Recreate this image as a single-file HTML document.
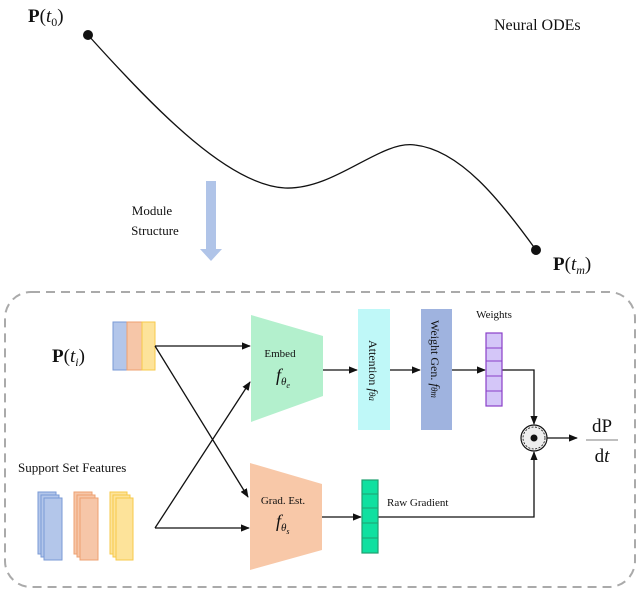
<!DOCTYPE html>
<html><head><meta charset="utf-8"><style>
body{margin:0;background:#fff}
svg text{font-family:"Liberation Serif",serif;fill:#111}
</style></head><body>
<svg width="640" height="591" viewBox="0 0 640 591" xmlns="http://www.w3.org/2000/svg">
<defs>
<marker id="a" viewBox="0 0 10 10" refX="9" refY="5" markerWidth="7" markerHeight="7" orient="auto"><path d="M0,1 L10,5 L0,9 z" fill="#111"/></marker>
</defs>
<!-- top -->
<text x="28" y="22" font-size="19"><tspan font-weight="bold">P</tspan>(<tspan font-style="italic">t</tspan><tspan font-size="12" dy="4">0</tspan><tspan dy="-4">)</tspan></text>
<text x="494" y="30" font-size="16">Neural ODEs</text>
<circle cx="88" cy="35" r="5" fill="#111"/>
<path d="M88,35 C160,115 230,185 285,188 C335,190 380,140 415,145 C460,150 500,200 536,250" fill="none" stroke="#111" stroke-width="1.3"/>
<circle cx="536" cy="250" r="5" fill="#111"/>
<text x="553" y="270" font-size="19"><tspan font-weight="bold">P</tspan>(<tspan font-style="italic">t</tspan><tspan font-size="12" dy="4" font-style="italic">m</tspan><tspan dy="-4">)</tspan></text>
<rect x="206" y="181" width="10" height="69" fill="#b0c4e8"/>
<path d="M200,249 L222,249 L211,261 z" fill="#b0c4e8"/>
<text x="152" y="215" font-size="13" text-anchor="middle">Module</text>
<text x="155" y="235" font-size="13" text-anchor="middle">Structure</text>
<!-- dashed box -->
<rect x="5" y="292" width="630" height="295" rx="26" fill="none" stroke="#aaa" stroke-width="2" stroke-dasharray="9,6"/>
<!-- P(ti) -->
<text x="52" y="362" font-size="19"><tspan font-weight="bold">P</tspan>(<tspan font-style="italic">t</tspan><tspan font-size="12" dy="4" font-style="italic">i</tspan><tspan dy="-4">)</tspan></text>
<rect x="113" y="322" width="14" height="48" fill="#b3c6ea" stroke="#7a9ad6"/>
<rect x="127" y="322" width="15" height="48" fill="#f6c6a8" stroke="#eda071"/>
<rect x="142" y="322" width="13" height="48" fill="#fde39a" stroke="#f7c94a"/>
<!-- support -->
<text x="18" y="472" font-size="13">Support Set Features</text>
<g stroke-width="1">
<rect x="38" y="492" width="18" height="62" fill="#b3c6ea" stroke="#7a9ad6"/>
<rect x="41" y="495" width="18" height="62" fill="#b3c6ea" stroke="#7a9ad6"/>
<rect x="44" y="498" width="18" height="62" fill="#b3c6ea" stroke="#7a9ad6"/>
<rect x="74" y="492" width="18" height="62" fill="#f6c6a8" stroke="#eda071"/>
<rect x="77" y="495" width="18" height="62" fill="#f6c6a8" stroke="#eda071"/>
<rect x="80" y="498" width="18" height="62" fill="#f6c6a8" stroke="#eda071"/>
<rect x="110" y="492" width="17" height="62" fill="#fde39a" stroke="#f7c94a"/>
<rect x="113" y="495" width="17" height="62" fill="#fde39a" stroke="#f7c94a"/>
<rect x="116" y="498" width="17" height="62" fill="#fde39a" stroke="#f7c94a"/>
</g>
<!-- arrows -->
<g stroke="#111" stroke-width="1.3" fill="none" marker-end="url(#a)">
<line x1="155" y1="346" x2="250" y2="346"/>
<line x1="155" y1="346" x2="248" y2="497"/>
<line x1="155" y1="528" x2="250" y2="382"/>
<line x1="155" y1="528" x2="249" y2="528"/>
<line x1="323" y1="370" x2="357" y2="370"/>
<line x1="390" y1="370" x2="420" y2="370"/>
<line x1="452" y1="370" x2="485" y2="370"/>
<polyline points="502,370 534,370 534,424"/>
<line x1="322" y1="517" x2="361" y2="517"/>
<polyline points="378,517 534,517 534,452"/>
<line x1="546" y1="438" x2="577" y2="438"/>
</g>
<!-- embed -->
<path d="M251,315 L323,336 L323,396 L251,422 z" fill="#b3f0cd"/>
<text x="280" y="357" font-size="11" text-anchor="middle">Embed</text>
<text x="276" y="381" font-size="18" font-style="italic">f<tspan font-size="11" dy="4">θ<tspan font-size="8" dy="3">e</tspan></tspan></text>
<!-- grad -->
<path d="M250,463 L322,484 L322,550 L250,570 z" fill="#f8c8a8"/>
<text x="283" y="504" font-size="11" text-anchor="middle">Grad. Est.</text>
<text x="276" y="527" font-size="18" font-style="italic">f<tspan font-size="11" dy="4">θ<tspan font-size="8" dy="3">s</tspan></tspan></text>
<!-- attention -->
<rect x="358" y="309" width="32" height="121" fill="#bff8f8"/>
<text transform="translate(369,340) rotate(90)" font-size="12">Attention <tspan font-style="italic" font-size="13">f</tspan><tspan font-size="9" font-style="italic">θa</tspan></text>
<rect x="421" y="309" width="31" height="121" fill="#9fb3df"/>
<text transform="translate(431,320) rotate(90)" font-size="12">Weight Gen. <tspan font-style="italic" font-size="13">f</tspan><tspan font-size="9" font-style="italic">θm</tspan></text>
<!-- weights -->
<text x="494" y="318" font-size="11" text-anchor="middle">Weights</text>
<g fill="#d4c6f8" stroke="#8a3fc8" stroke-width="1.2">
<rect x="486" y="333" width="16" height="73"/>
</g>
<g stroke="#8a3fc8" stroke-width="1"><line x1="486" y1="348" x2="502" y2="348"/><line x1="486" y1="361" x2="502" y2="361"/><line x1="486" y1="376" x2="502" y2="376"/><line x1="486" y1="391" x2="502" y2="391"/></g>
<!-- raw gradient -->
<rect x="362" y="480" width="16" height="73" fill="#10e0a0" stroke="#20a070" stroke-width="1.2"/>
<g stroke="#20a070" stroke-width="1"><line x1="362" y1="494" x2="378" y2="494"/><line x1="362" y1="508" x2="378" y2="508"/><line x1="362" y1="523" x2="378" y2="523"/><line x1="362" y1="538" x2="378" y2="538"/></g>
<text x="387" y="506" font-size="11">Raw Gradient</text>
<!-- odot -->
<circle cx="534" cy="438" r="13" fill="#eee" stroke="#111" stroke-width="1.2"/>
<circle cx="534" cy="438" r="11" fill="none" stroke="#111" stroke-width="0.8" stroke-dasharray="2,1.5"/>
<circle cx="534" cy="438" r="3.5" fill="#111"/>
<text x="602" y="432" font-size="19" text-anchor="middle">dP</text>
<line x1="586" y1="440" x2="618" y2="440" stroke="#999" stroke-width="1.3"/>
<text x="602" y="462" font-size="19" text-anchor="middle">d<tspan font-style="italic">t</tspan></text>
</svg>
</body></html>
